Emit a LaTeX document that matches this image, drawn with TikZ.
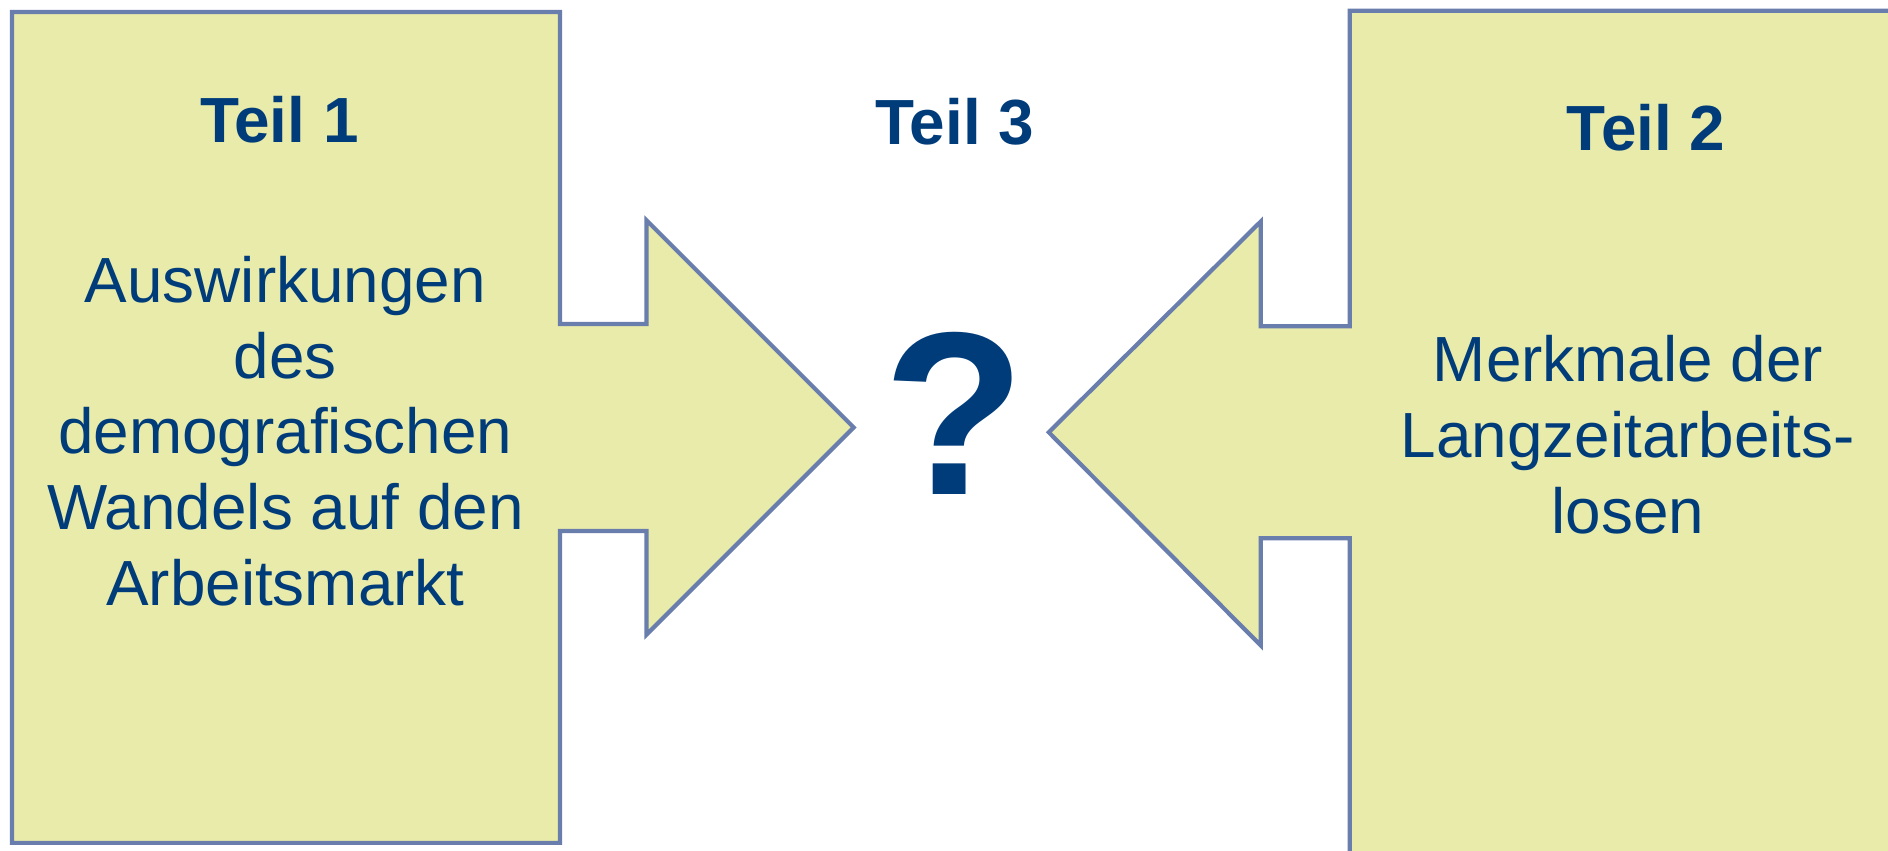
\documentclass[tikz,border=0pt]{standalone}
\usepackage{fontspec}
\setmainfont{Liberation Sans}
\definecolor{fillc}{RGB}{232,235,170}
\definecolor{linec}{RGB}{106,126,173}
\definecolor{txt}{RGB}{0,60,122}
\begin{document}
\begin{tikzpicture}[x=1pt,y=-1pt,
  shapeline/.style={draw=linec,fill=fillc,line width=3.5pt,line join=miter},
  title/.style={text=txt,font=\fontsize{53}{63}\selectfont\bfseries,inner sep=0pt,anchor=base},
  body/.style={text=txt,font=\fontsize{53}{63}\selectfont,align=center,inner sep=0pt,anchor=base}]
\useasboundingbox (0,0) rectangle (1568,706);
\fill[white] (0,0) rectangle (1568,706);
\draw[shapeline] (10,10) -- (465,10) -- (465,269) -- (537,269) -- (537,183) -- (709,355) -- (537,527) -- (537,441) -- (465,441) -- (465,700) -- (10,700) -- cycle;
\begin{scope}
\clip (0,0) rectangle (1568,706);
\draw[shapeline] (1121,9) -- (1600,9) -- (1600,740) -- (1121,740) -- (1121,447) -- (1047,447) -- (1047,536) -- (871,359) -- (1047,184) -- (1047,271) -- (1121,271) -- cycle;
\end{scope}
\node[title] (t1) at (232,118) {Teil 1};
\node[title] (t3) at (793,120) {Teil 3};
\node[title] (t2) at (1367,125) {Teil 2};
\node[text=txt,font=\fontsize{193}{200}\selectfont\bfseries,inner sep=0pt,anchor=base] (q) at (793,411) {?};
\node[body] (b1) at (237,503) {Auswirkungen\\des\\demografischen\\Wandels auf den\\Arbeitsmarkt};
\node[body] (b2) at (1352,443) {Merkmale der\\Langzeitarbeits-\\losen};
\end{tikzpicture}
\end{document}
